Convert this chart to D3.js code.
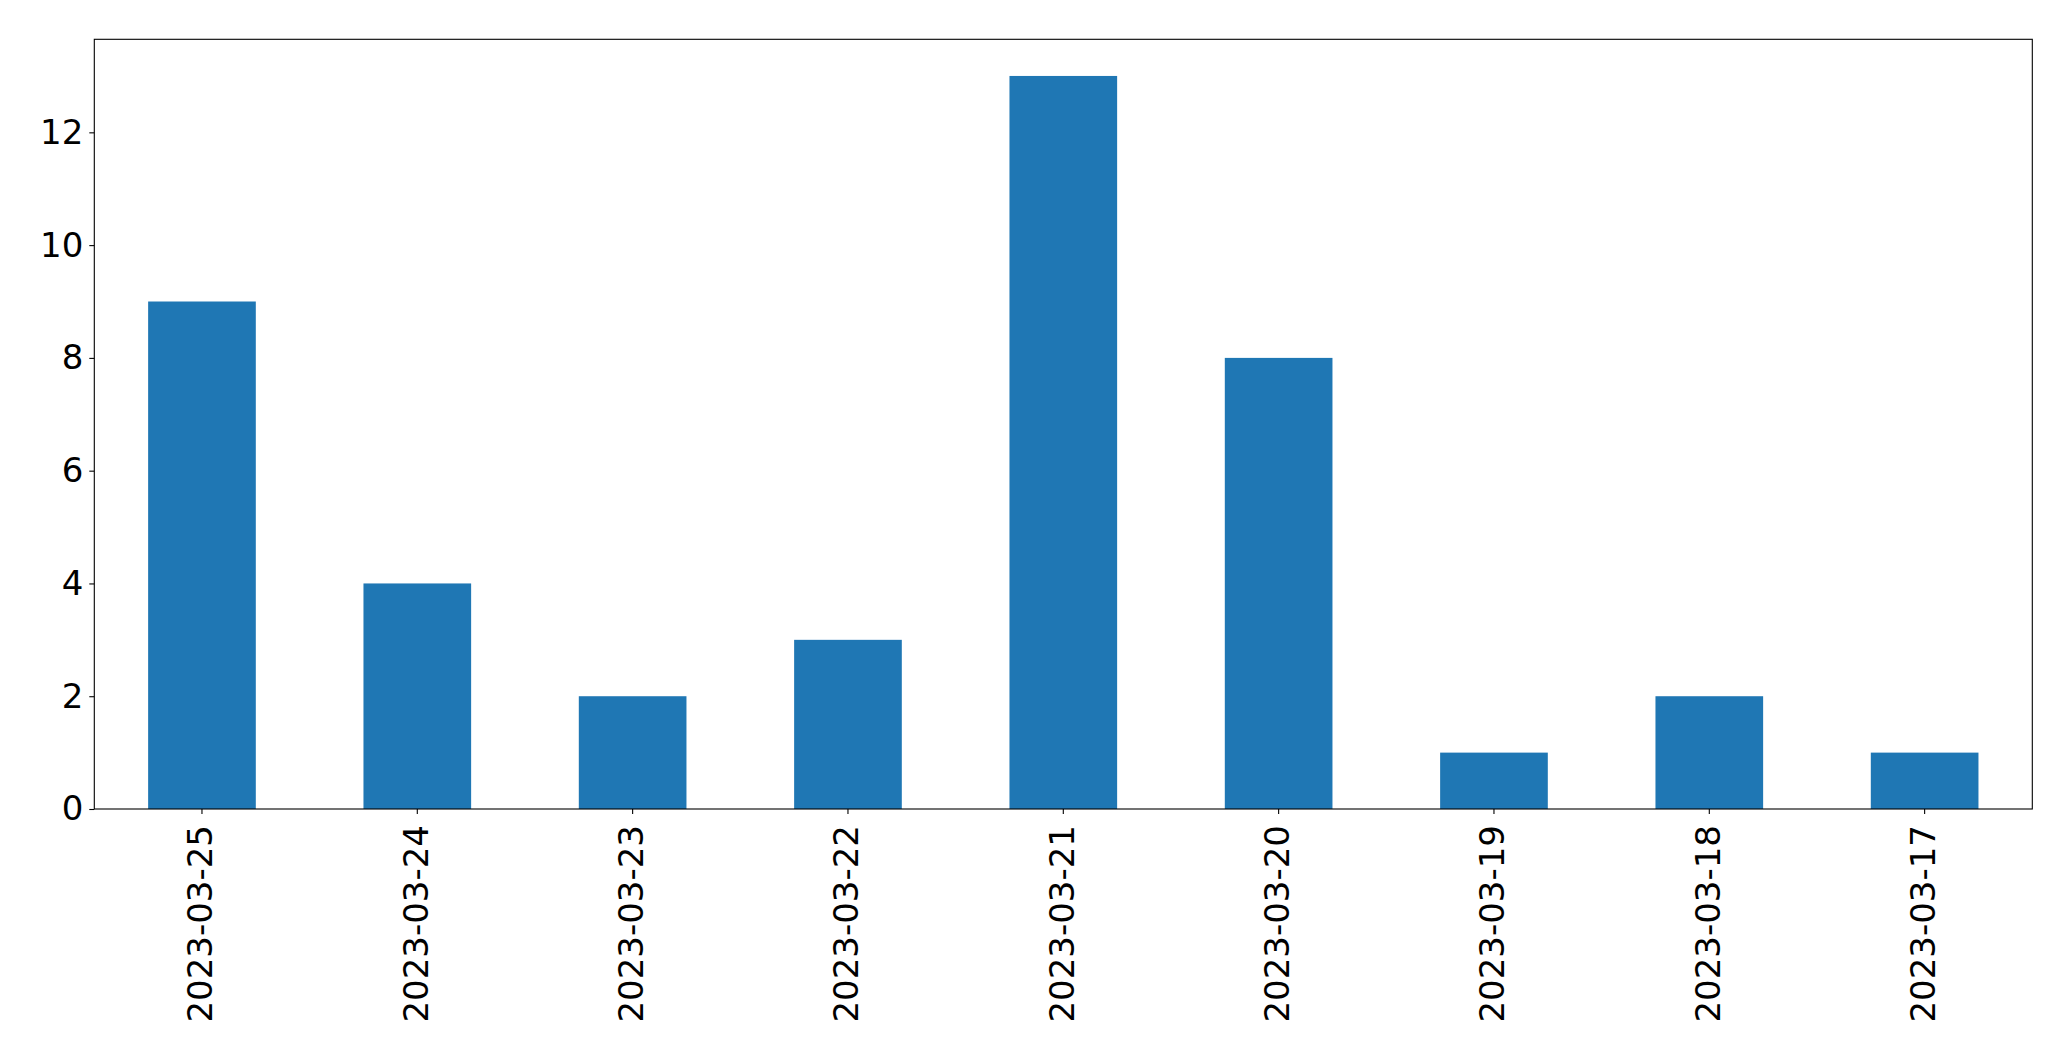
<!DOCTYPE html>
<html>
<head>
<meta charset="utf-8">
<script src="https://cdn.jsdelivr.net/npm/d3@7"></script>
<style>
  html, body { margin: 0; padding: 0; background: #fff; }
  svg { display: block; }
</style>
</head>
<body>
<script>
const categories = ["2023-03-25", "2023-03-24", "2023-03-23", "2023-03-22", "2023-03-21", "2023-03-20", "2023-03-19", "2023-03-18", "2023-03-17"];
const values = [9, 4, 2, 3, 13, 8, 1, 2, 1];
const yTicks = [0, 2, 4, 6, 8, 10, 12];

const W = 2071, H = 1061;
const mLeft = 94.3, mRight = 2032.3, mTop = 39.3, mBottom = 809;
const fontSize = 34;

const svg = d3.select("body").append("svg")
  .attr("width", W).attr("height", H)
  .style("font-family", "'DejaVu Sans', sans-serif");

const x = d3.scaleBand().domain(categories).range([mLeft, mRight]).paddingInner(0.5).paddingOuter(0.25);
const y = d3.scaleLinear().domain([0, d3.max(values) * 1.05]).range([mBottom, mTop]);

svg.append("g").selectAll("rect")
  .data(values)
  .join("rect")
  .attr("x", (d, i) => x(categories[i]))
  .attr("width", x.bandwidth())
  .attr("y", d => y(d))
  .attr("height", d => y(0) - y(d))
  .attr("fill", "#1f77b4");

// Y axis
const yAxis = svg.append("g")
  .attr("transform", `translate(${mLeft},0)`)
  .call(d3.axisLeft(y).tickValues(yTicks).tickSize(5).tickPadding(6).tickFormat(d3.format("d")));
yAxis.select(".domain").remove();
yAxis.selectAll("line").attr("stroke", "#000").attr("stroke-width", 1.1);
yAxis.selectAll("text").attr("font-size", fontSize).attr("fill", "#000")
  .attr("font-family", "'DejaVu Sans', sans-serif");

// X axis
const xAxis = svg.append("g")
  .attr("transform", `translate(0,${mBottom})`)
  .call(d3.axisBottom(x).tickSize(5).tickPadding(0));
xAxis.select(".domain").remove();
xAxis.selectAll("line").attr("stroke", "#000").attr("stroke-width", 1.1);
xAxis.selectAll("text")
  .attr("font-size", fontSize).attr("fill", "#000")
  .attr("font-family", "'DejaVu Sans', sans-serif")
  .attr("text-anchor", "end")
  .attr("x", 0).attr("y", 0)
  .attr("dy", "0.3em")
  .attr("transform", "translate(0,16) rotate(-90)");

// Frame (spines)
svg.append("rect")
  .attr("x", mLeft).attr("y", mTop)
  .attr("width", mRight - mLeft).attr("height", mBottom - mTop)
  .attr("fill", "none").attr("stroke", "#000").attr("stroke-width", 1.1);
</script>
</body>
</html>
